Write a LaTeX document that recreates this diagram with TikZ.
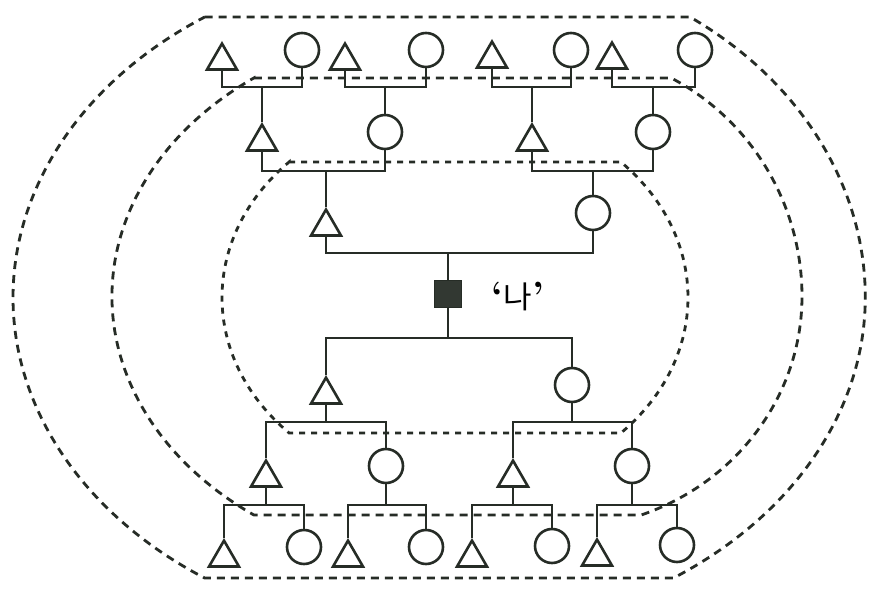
\documentclass[tikz,border=0pt]{standalone}
\usepackage{fontspec}
\newfontfamily\krfont{Noto Sans CJK KR}
\usetikzlibrary{shapes.geometric}
\definecolor{ink}{RGB}{38,44,38}
\definecolor{meink}{RGB}{50,56,50}
\begin{document}
\begin{tikzpicture}[x=1pt,y=1pt,
  ln/.style={draw=ink, line width=2.6pt},
  tri/.style={regular polygon, regular polygon sides=3, minimum size=34.6pt, inner sep=0pt, draw=ink, line width=2.6pt, anchor=north},
  cir/.style={circle, minimum size=34pt, inner sep=0pt, draw=ink, line width=2.6pt},
  mebox/.style={rectangle, minimum size=27pt, inner sep=0pt, draw=ink, fill=meink, line width=1pt},
  bound/.style={draw=ink, line width=2.8pt, dash pattern=on 8pt off 6pt},
  inbound/.style={draw=ink, line width=2.8pt, dash pattern=on 6pt off 6pt},
]
\fill[white] (0,0) rectangle (888,593);
\useasboundingbox (0,0) rectangle (888,593);

% dashed boundaries
\draw[bound] (204.6,576) -- (690,576)
  arc[start angle=55.59, end angle=0, x radius=403pt, y radius=340pt]
  arc[start angle=0, end angle=-56.33, x radius=430pt, y radius=337pt]
  -- (204.6,15)
  arc[start angle=236.33, end angle=123.67, x radius=430pt, y radius=337pt] -- cycle;
\draw[bound] (253.9,515) -- (671.2,515)
  arc[start angle=62.64, end angle=0, x radius=242pt, y radius=246pt]
  arc[start angle=0, end angle=-70.36, x radius=242pt, y radius=232pt]
  -- (253.9,78)
  arc[start angle=234.03, end angle=125.97, x radius=344pt, y radius=270pt] -- cycle;
\draw[inbound] (289.1,431) -- (620.9,431)
  arc[start angle=44.6, end angle=-44.6, x radius=233pt, y radius=193pt]
  -- (289.1,160)
  arc[start angle=224.6, end angle=135.4, x radius=233pt, y radius=193pt] -- cycle;

% great-grandparents
\node[tri] (a1) at (222,552) {};
\node[cir] (b1) at (302,543) {};
\node[tri] (a2) at (345,552) {};
\node[cir] (b2) at (426,543) {};
\node[tri] (a3) at (492,554) {};
\node[cir] (b3) at (571,543) {};
\node[tri] (a4) at (612,553) {};
\node[cir] (b4) at (695,543) {};
\coordinate (j1) at (262,506);
\coordinate (j2) at (385,506);
\coordinate (j3) at (532,506);
\coordinate (j4) at (653,506);

% grandparents
\node[tri] (gfA) at (262,471) {};
\node[cir] (gmA) at (385,461) {};
\node[tri] (gfB) at (532,471) {};
\node[cir] (gmB) at (653,461) {};
\coordinate (k1) at (326,422);
\coordinate (k2) at (593,422);

% parents
\node[tri] (fa) at (326,386) {};
\node[cir] (mo) at (593,380) {};
\coordinate (jp) at (448,340);

% me
\node[mebox] (me) at (448,299) {};
\node[inner sep=0pt, font=\fontsize{31pt}{34pt}\selectfont] (lbl) at (518,296) {{\bfseries\fontsize{38pt}{40pt}\selectfont ‘}{\krfont 나}{\bfseries\fontsize{38pt}{40pt}\selectfont ’}};
\coordinate (jc) at (448,255);

% children
\node[tri] (so) at (326,218) {};
\node[cir] (da) at (572,208) {};
\coordinate (ms) at (326,171);
\coordinate (md) at (572,171);

% grandchildren
\node[tri] (s1) at (266,135) {};
\node[cir] (s2) at (386,127) {};
\node[tri] (d1) at (513,135) {};
\node[cir] (d2) at (632,127) {};
\coordinate (n1) at (266,88);
\coordinate (n2) at (386,88);
\coordinate (n3) at (513,88);
\coordinate (n4) at (632,88);

% great-grandchildren
\node[tri] (e1) at (224,55) {};
\node[cir] (f1) at (304,46) {};
\node[tri] (e2) at (348,55) {};
\node[cir] (f2) at (426,46) {};
\node[tri] (e3) at (472,55) {};
\node[cir] (f3) at (552,47) {};
\node[tri] (e4) at (597,56) {};
\node[cir] (f4) at (677,48) {};

% connectors
\draw[ln] (a1.south) |- (j1) -| (b1.south);
\draw[ln] (a2.south) |- (j2) -| (b2.south);
\draw[ln] (a3.south) |- (j3) -| (b3.south);
\draw[ln] (a4.south) |- (j4) -| (b4.south);
\draw[ln] (j1) -- (gfA.north);
\draw[ln] (j2) -- (gmA.north);
\draw[ln] (j3) -- (gfB.north);
\draw[ln] (j4) -- (gmB.north);
\draw[ln] (gfA.south) |- (k1) -| (gmA.south);
\draw[ln] (gfB.south) |- (k2) -| (gmB.south);
\draw[ln] (k1) -- (fa.north);
\draw[ln] (k2) -- (mo.north);
\draw[ln] (fa.south) |- (jp) -| (mo.south);
\draw[ln] (jp) -- (me.north);
\draw[ln] (me.south) -- (jc);
\draw[ln] (so.north) |- (jc) -| (da.north);
\draw[ln] (so.south) -- (ms);
\draw[ln] (da.south) -- (md);
\draw[ln] (s1.north) |- (ms) -| (s2.north);
\draw[ln] (d1.north) |- (md) -| (d2.north);
\draw[ln] (s1.south) -- (n1);
\draw[ln] (s2.south) -- (n2);
\draw[ln] (d1.south) -- (n3);
\draw[ln] (d2.south) -- (n4);
\draw[ln] (e1.north) |- (n1) -| (f1.north);
\draw[ln] (e2.north) |- (n2) -| (f2.north);
\draw[ln] (e3.north) |- (n3) -| (f3.north);
\draw[ln] (e4.north) |- (n4) -| (f4.north);
\end{tikzpicture}
\end{document}
